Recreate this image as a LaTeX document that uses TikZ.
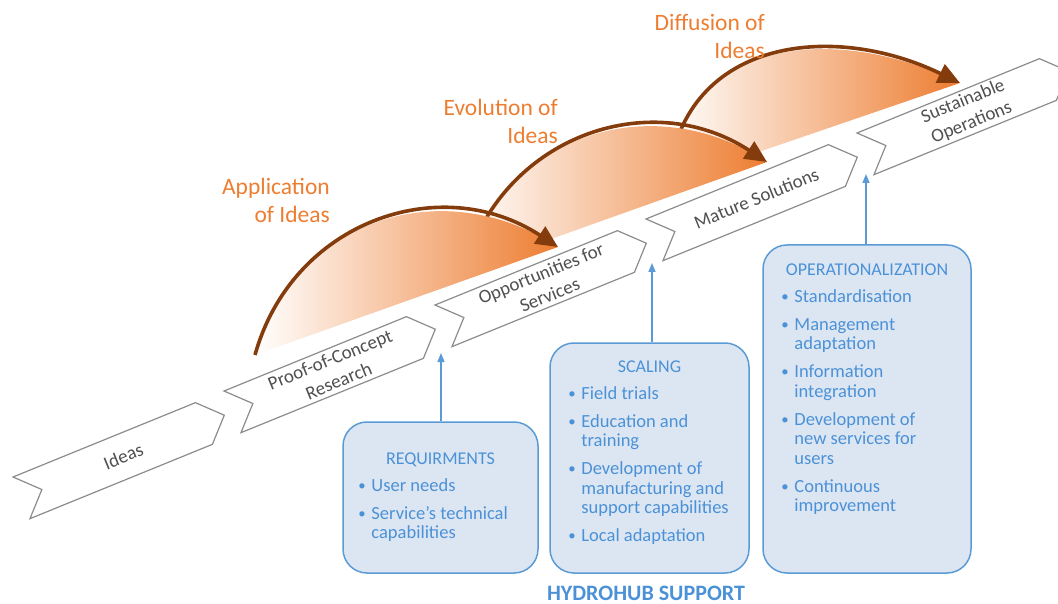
\documentclass[tikz,border=0pt]{standalone}
\usepackage{fontspec}
\setmainfont{Carlito}
\usepackage{graphicx}
\usetikzlibrary{shapes,arrows.meta,calc,positioning}

\definecolor{chevgray}{RGB}{140,140,140}
\definecolor{chevtext}{RGB}{80,80,80}
\definecolor{ideaorange}{RGB}{237,125,49}
\definecolor{arcbrown}{RGB}{132,60,12}
\definecolor{hubfill}{RGB}{220,230,242}
\definecolor{hubline}{RGB}{91,155,213}
\definecolor{hubtext}{RGB}{75,145,215}

\newcommand{\hb}{\makebox[13pt][l]{\raisebox{1pt}{\scalebox{0.8}{\textbullet}}}}

\begin{document}
\begin{tikzpicture}[x=1pt,y=-1pt,
	chev/.style={draw=chevgray, line width=1.2pt, fill=white},
	chevlabel/.style={text=chevtext, font=\fontsize{19}{23}\selectfont, align=center, inner sep=0pt},
	idea/.style={text=ideaorange, font=\fontsize{23.5}{28}\selectfont, align=right, inner sep=0pt, anchor=east},
	arcfill/.style={left color=white, right color=ideaorange},
	arcline/.style={draw=arcbrown, line width=3.6pt, -{Triangle[length=22pt,width=20pt]}},
	hubbox/.style={draw=hubline, fill=hubfill, line width=1.5pt, rounded corners=24pt},
	hubtitle/.style={text=hubtext, font=\fontsize{18}{19.5}\selectfont, inner sep=0pt, anchor=base},
	hublist/.style={text=hubtext, font=\fontsize{18.5}{19.5}\selectfont, inner sep=0pt, anchor=base west},
	hubarrow/.style={draw=hubline, line width=1.5pt, -{Triangle[length=9pt,width=7pt]}}]
	\useasboundingbox (0,0) rectangle (1058,604);
	\clip (0,0) rectangle (1058,604);
	
	% arcs, back to front
	\coordinate (s3) at (668,183);
	\coordinate (e3) at (960,83);
	\coordinate (s2) at (464,270);
	\coordinate (e2) at (767,162);
	\coordinate (s1) at (255,355);
	\coordinate (e1) at (558,247);
	
	\shade[arcfill] (s3) .. controls (680,40) and (830,20) .. (e3) -- cycle;
	\draw[arcline] (s3) .. controls (680,40) and (830,20) .. (e3);
	\shade[arcfill] (s2) .. controls (501,137) and (649,85) .. (e2) -- cycle;
	\draw[arcline] (s2) .. controls (501,137) and (649,85) .. (e2);
	\shade[arcfill] (s1) .. controls (292,222) and (440,170) .. (e1) -- cycle;
	\draw[arcline] (s1) .. controls (292,222) and (440,170) .. (e1);
	
	\node[idea] (apply) at (330,200) {Application\\of Ideas};
	\node[idea] (evolve) at (558,121) {Evolution of\\Ideas};
	\node[idea] (diffuse) at (765,36) {Diffusion of\\Ideas};
	
	% chevrons
	\foreach \i/\txt in {0/Ideas, 1/{Proof-of-Concept\\Research}, 2/{Opportunities for\\Services}, 3/{Mature Solutions}, 4/{Sustainable\\Operations}}{
		\begin{scope}[shift={($(13,477)+\i*(211,-86)$)}, rotate=22.17]
			\draw[chev] (0,0) -- (197,0) -- (219,22.5) -- (197,45) -- (0,45) -- (22,22.5) -- cycle;
			\node[chevlabel, rotate=22.17] (c\i) at (110,22.5) {\txt};
		\end{scope}
	}
	
	% support boxes
	\node[hubbox, minimum width=195pt, minimum height=151pt] (req) at (440.5,497.5) {};
	\node[hubbox, minimum width=199pt, minimum height=230pt] (scal) at (649.5,458) {};
	\node[hubbox, minimum width=208pt, minimum height=328pt] (oper) at (867,409) {};
	
	\node[hubtitle] (reqt) at ([yshift=-43pt]req.north) {REQUIRMENTS};
	\node[hublist] (reql) at ([xshift=16pt,yshift=-70pt]req.north west) {%
		\begin{tabular}[t]{@{}l@{}l@{}}
			\hb & User needs\\[8.5pt]
			\hb & Service's technical\\
			& capabilities
		\end{tabular}};
	
	\node[hubtitle] (scalt) at ([yshift=-30pt]scal.north) {SCALING};
	\node[hublist] (scall) at ([xshift=19pt,yshift=-57pt]scal.north west) {%
		\begin{tabular}[t]{@{}l@{}l@{}}
			\hb & Field trials\\[8.5pt]
			\hb & Education and\\
			& training\\[8.5pt]
			\hb & Development of\\
			& manufacturing and\\
			& support capabilities\\[8.5pt]
			\hb & Local adaptation
		\end{tabular}};
	
	\node[hubtitle] (opert) at ([yshift=-31pt]oper.north) {OPERATIONALIZATION};
	\node[hublist] (operl) at ([xshift=19pt,yshift=-58pt]oper.north west) {%
		\begin{tabular}[t]{@{}l@{}l@{}}
			\hb & Standardisation\\[8.5pt]
			\hb & Management\\
			& adaptation\\[8.5pt]
			\hb & Information\\
			& integration\\[8.5pt]
			\hb & Development of\\
			& new services for\\
			& users\\[8.5pt]
			\hb & Continuous\\
			& improvement
		\end{tabular}};
	
	% support arrows
	\coordinate (t1) at (441,353);
	\coordinate (t2) at (652,263);
	\coordinate (t3) at (866,174);
	\draw[hubarrow] (req.north -| t1) -- (t1);
	\draw[hubarrow] (scal.north -| t2) -- (t2);
	\draw[hubarrow] (oper.north -| t3) -- (t3);
	
	\node[text=hubtext, font=\fontsize{22}{26}\selectfont\bfseries, inner sep=0pt, anchor=base] (hub) at (646,600) {HYDROHUB SUPPORT};
\end{tikzpicture}
\end{document}
